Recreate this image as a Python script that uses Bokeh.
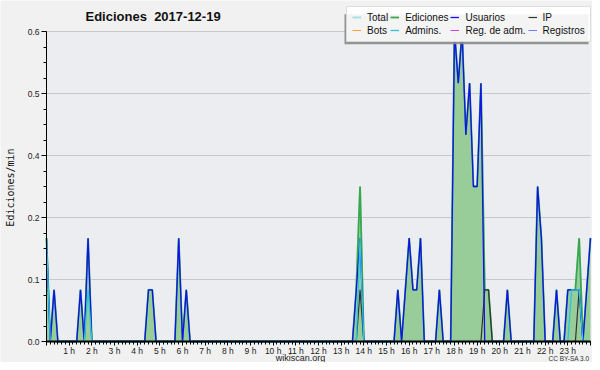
from math import pi
from bokeh.plotting import figure
from bokeh.models import (Range1d, FixedTicker, Label, Legend, LegendItem,
                          BoxAnnotation, ColumnDataSource)
from bokeh.embed import file_html
from bokeh.resources import INLINE

# ---- data: edits per minute, 10-minute buckets, 2017-12-19 (145 points, 0h..24h) ----
ediciones = [
    0.2, 0, 0.1, 0, 0, 0,          # 0 h
    0, 0, 0, 0.1, 0, 0.2,          # 1 h
    0, 0, 0, 0, 0, 0,              # 2 h
    0, 0, 0, 0, 0, 0,              # 3 h
    0, 0, 0, 0.1, 0.1, 0,          # 4 h
    0, 0, 0, 0, 0, 0.2,            # 5 h
    0, 0.1, 0, 0, 0, 0,            # 6 h
    0, 0, 0, 0, 0, 0,              # 7 h
    0, 0, 0, 0, 0, 0,              # 8 h
    0, 0, 0, 0, 0, 0,              # 9 h
    0, 0, 0, 0, 0, 0,              # 10 h
    0, 0, 0, 0, 0, 0,              # 11 h
    0, 0, 0, 0, 0, 0,              # 12 h
    0, 0, 0, 0, 0.1, 0.3,          # 13 h
    0, 0, 0, 0, 0, 0,              # 14 h
    0, 0, 0, 0.1, 0, 0.1,          # 15 h
    0.2, 0.1, 0.1, 0.2, 0, 0,      # 16 h
    0, 0, 0.1, 0, 0, 0,            # 17 h
    0.6, 0.5, 0.6, 0.4, 0.5, 0.3,  # 18 h
    0.3, 0.5, 0.1, 0.1, 0, 0,      # 19 h
    0, 0, 0.1, 0, 0, 0,            # 20 h
    0, 0, 0, 0, 0.3, 0.2,          # 21 h
    0, 0, 0, 0.1, 0, 0,            # 22 h
    0.1, 0.1, 0.1, 0.2, 0, 0.1,    # 23 h
    0.2,                           # 24 h
]
usuarios = [
    0.2, 0, 0.1, 0, 0, 0,
    0, 0, 0, 0.1, 0, 0.2,
    0, 0, 0, 0, 0, 0,
    0, 0, 0, 0, 0, 0,
    0, 0, 0, 0.1, 0.1, 0,
    0, 0, 0, 0, 0, 0.2,
    0, 0.1, 0, 0, 0, 0,
    0, 0, 0, 0, 0, 0,
    0, 0, 0, 0, 0, 0,
    0, 0, 0, 0, 0, 0,
    0, 0, 0, 0, 0, 0,
    0, 0, 0, 0, 0, 0,
    0, 0, 0, 0, 0, 0,
    0, 0, 0, 0, 0.1, 0.2,
    0, 0, 0, 0, 0, 0,
    0, 0, 0, 0.1, 0, 0.1,
    0.2, 0.1, 0.1, 0.2, 0, 0,
    0, 0, 0.1, 0, 0, 0,
    0.6, 0.5, 0.6, 0.4, 0.5, 0.3,
    0.3, 0.5, 0, 0, 0, 0,
    0, 0, 0.1, 0, 0, 0,
    0, 0, 0, 0, 0.3, 0.2,
    0, 0, 0, 0.1, 0, 0,
    0.1, 0.1, 0.1, 0.1, 0, 0.1,
    0.2,
]
ip = [
    0, 0, 0, 0, 0, 0,
    0, 0, 0, 0, 0, 0,
    0, 0, 0, 0, 0, 0,
    0, 0, 0, 0, 0, 0,
    0, 0, 0, 0, 0, 0,
    0, 0, 0, 0, 0, 0,
    0, 0, 0, 0, 0, 0,
    0, 0, 0, 0, 0, 0,
    0, 0, 0, 0, 0, 0,
    0, 0, 0, 0, 0, 0,
    0, 0, 0, 0, 0, 0,
    0, 0, 0, 0, 0, 0,
    0, 0, 0, 0, 0, 0,
    0, 0, 0, 0, 0, 0.1,
    0, 0, 0, 0, 0, 0,
    0, 0, 0, 0, 0, 0,
    0, 0, 0, 0, 0, 0,
    0, 0, 0, 0, 0, 0,
    0, 0, 0, 0, 0, 0,
    0, 0, 0.1, 0.1, 0, 0,
    0, 0, 0, 0, 0, 0,
    0, 0, 0, 0, 0, 0,
    0, 0, 0, 0, 0, 0,
    0, 0, 0, 0.1, 0, 0,
    0,
]
admins = [
    0.2, 0, 0, 0, 0, 0,
    0, 0, 0, 0, 0, 0.1,
    0, 0, 0, 0, 0, 0,
    0, 0, 0, 0, 0, 0,
    0, 0, 0, 0, 0, 0,
    0, 0, 0, 0, 0, 0,
    0, 0, 0, 0, 0, 0,
    0, 0, 0, 0, 0, 0,
    0, 0, 0, 0, 0, 0,
    0, 0, 0, 0, 0, 0,
    0, 0, 0, 0, 0, 0,
    0, 0, 0, 0, 0, 0,
    0, 0, 0, 0, 0, 0,
    0, 0, 0, 0, 0, 0.2,
    0, 0, 0, 0, 0, 0,
    0, 0, 0, 0, 0, 0,
    0, 0, 0, 0, 0, 0,
    0, 0, 0, 0, 0, 0,
    0, 0, 0, 0, 0, 0,
    0, 0, 0, 0, 0, 0,
    0, 0, 0, 0, 0, 0,
    0, 0, 0, 0, 0, 0,
    0, 0, 0, 0, 0, 0,
    0, 0.1, 0.1, 0.1, 0, 0,
    0,
]
total = list(ediciones)          # total equals edits on this day
bots = [0.0] * 145               # no bot edits
reg_adm = [0.0] * 145            # no admin log actions
registros = [0.0] * 145          # no log entries
hours = [k / 6 for k in range(145)]

title_text = "Ediciones\u00a0 2017-12-19"
y_title = "Ediciones/min"
ytick_vals = [0, 0.12, 0.24, 0.36, 0.48, 0.6]
ytick_labels = ["0.0", "0.1", "0.2", "0.4", "0.5", "0.6"]
xtick_vals = list(range(25))
xtick_labels = [""] + [f"{h} h" for h in range(1, 24)] + [""]

src = ColumnDataSource(dict(x=hours, total=total, ediciones=ediciones, usuarios=usuarios,
                            ip=ip, bots=bots, admins=admins, reg_adm=reg_adm, registros=registros))

FONT = "Liberation Sans"
W, H = 592, 362
# frame = whole canvas; data area 0..24 h -> x 46..590, 0..0.6 -> y 341..31
px_h = 544 / 24
px_v = 310 / 0.6
x0 = -46 / px_h
y0 = -(H - 341) / px_v
p = figure(width=W, height=H, output_backend="svg", toolbar_location=None,
           x_range=Range1d(x0, x0 + W / px_h), y_range=Range1d(y0, y0 + H / px_v),
           min_border=0, min_border_left=0, min_border_right=0,
           min_border_top=0, min_border_bottom=0,
           background_fill_color="#f1f1f1", border_fill_color="#f1f1f1",
           outline_line_color=None)
p.title.visible = False

# plot-area background and horizontal grid lines
p.add_layout(BoxAnnotation(left=0, right=24, bottom=0, top=0.6, fill_color="#ebedf0",
                           fill_alpha=1, line_color=None, level="underlay"))
p.segment(x0=[0] * len(ytick_vals), x1=[24] * len(ytick_vals), y0=ytick_vals, y1=ytick_vals,
          line_color="#c8c8c8", line_width=1)
p.xgrid.visible = False
p.ygrid.visible = False

# axes fixed at the data origin
xa = p.xaxis[0]
xa.fixed_location = 0
xa.bounds = (0, 24)
xa.ticker = FixedTicker(ticks=xtick_vals, minor_ticks=hours)
xa.major_label_overrides = dict(zip(xtick_vals, xtick_labels))
xa.major_tick_out = 4
xa.major_tick_in = 0
xa.minor_tick_out = 3
xa.minor_tick_in = 0
xa.major_label_standoff = 0
xa.axis_line_width = 2
ya = p.yaxis[0]
ya.fixed_location = 0
ya.bounds = (0, 0.6)
ya.ticker = FixedTicker(ticks=ytick_vals, minor_ticks=[0.03 * k for k in range(21)])
ya.major_label_overrides = dict(zip(ytick_vals, ytick_labels))
ya.major_tick_out = 5
ya.major_tick_in = 0
ya.minor_tick_out = 3
ya.minor_tick_in = 0
ya.major_label_standoff = 2
for ax in (xa, ya):
    ax.axis_line_color = "black"
    ax.major_tick_line_color = "black"
    ax.minor_tick_line_color = "black"
    ax.major_label_text_font = FONT
    ax.major_label_text_font_size = "8.5px"
    ax.major_label_text_color = "#222222"

# series
p.varea(x="x", y1=0, y2="total", source=src, fill_color="#98cc98")
r_total = p.line("x", "total", source=src, line_color="#a8e0e0", line_width=2)
r_edic = p.line("x", "ediciones", source=src, line_color="#3aa64a", line_width=1.8)
r_bots = p.line("x", "bots", source=src, line_color="#ffa030", line_width=1)
r_reg = p.line("x", "reg_adm", source=src, line_color="#d040e0", line_width=1)
r_regis = p.line("x", "registros", source=src, line_color="#7878ff", line_width=1)
r_ip = p.line("x", "ip", source=src, line_color="#333333", line_width=1.2)
r_usu = p.line("x", "usuarios", source=src, line_color="#1010f0", line_width=1.3)
r_adm = p.line("x", "admins", source=src, line_color="#30c4dc", line_width=1.3)

# texts (screen units: from the canvas' bottom-left corner)
p.add_layout(Label(x=85, y=H - 16, x_units="screen", y_units="screen", text=title_text,
                   text_font=FONT, text_font_style="bold", text_font_size="13px",
                   text_baseline="middle", text_color="#111111"))
p.add_layout(Label(x=10, y=H - 187, x_units="screen", y_units="screen", text=y_title,
                   angle=pi / 2, text_align="center", text_baseline="middle",
                   text_font="DejaVu Sans Mono", text_font_size="10px", text_color="#111111"))
p.add_layout(Label(x=300, y=H - 357, x_units="screen", y_units="screen", text="wikiscan.org",
                   text_align="center", text_baseline="middle",
                   text_font=FONT, text_font_size="9px", text_color="#222222"))
p.add_layout(Label(x=589, y=H - 358, x_units="screen", y_units="screen", text="CC BY-SA 3.0",
                   text_align="right", text_baseline="middle",
                   text_font=FONT, text_font_size="6.5px", text_color="#333333"))

# legend shadow + legend
p.add_layout(BoxAnnotation(left=344, right=588, bottom=H - 43.7, top=H - 13.7,
                           left_units="screen", right_units="screen",
                           bottom_units="screen", top_units="screen",
                           fill_color="#888888", fill_alpha=0.9, line_color=None))
legend = Legend(items=[
    LegendItem(label="Total", renderers=[r_total]),
    LegendItem(label="Ediciones", renderers=[r_edic]),
    LegendItem(label="Usuarios", renderers=[r_usu]),
    LegendItem(label="IP", renderers=[r_ip]),
    LegendItem(label="Bots", renderers=[r_bots]),
    LegendItem(label="Admins.", renderers=[r_adm]),
    LegendItem(label="Reg. de adm.", renderers=[r_reg]),
    LegendItem(label="Registros", renderers=[r_regis]),
], location=(346, H - 41.7), orientation="horizontal", ncols=4,
    label_text_font=FONT, label_text_font_size="10px", label_text_color="#111111",
    label_height=8, glyph_height=8, glyph_width=9, label_standoff=6,
    spacing=2, padding=5, margin=0,
    border_line_color="#bbbbbb", background_fill_color="white", background_fill_alpha=0.9)
p.add_layout(legend, "center")

open("out.html", "w").write(file_html(p, INLINE))
